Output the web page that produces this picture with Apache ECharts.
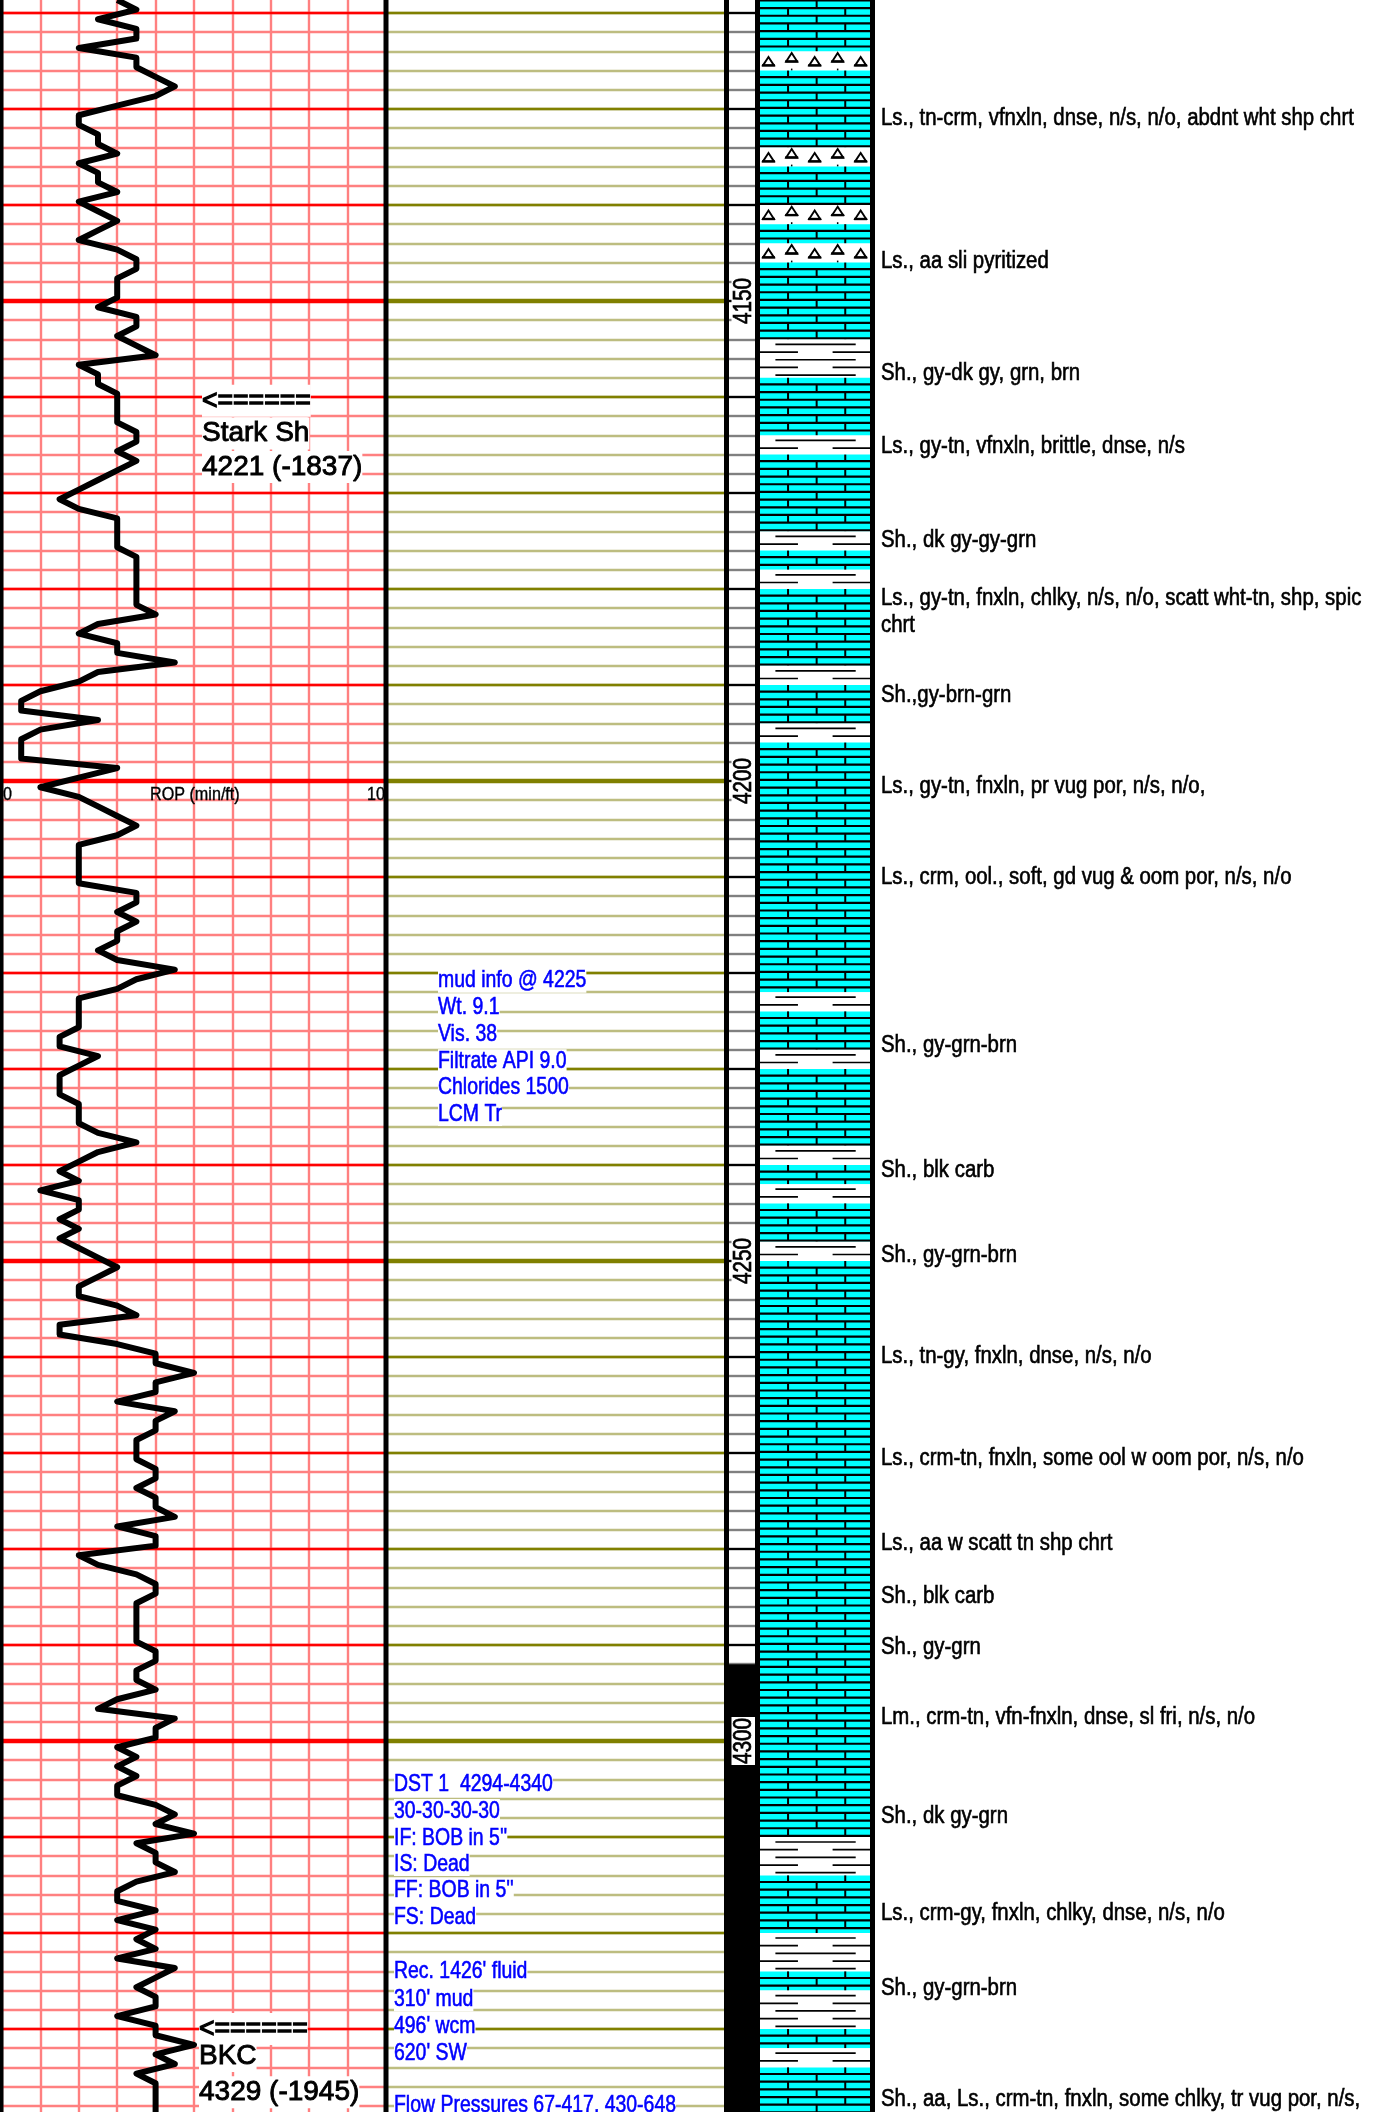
<!DOCTYPE html>
<html>
<head>
<meta charset="utf-8">
<title>ROP log</title>
<script src="https://cdn.jsdelivr.net/npm/echarts@6/dist/echarts.min.js"></script>
<style>
  html, body { margin: 0; padding: 0; background: #fff; }
  #chart { width: 1374px; height: 2112px; }
</style>
</head>
<body>
<div id="chart"></div>
<script>
// one value per foot, starting at ropTop
const ropTop = 4118.65;
const ropValues = [
  3,3.5,2.5,3.5,3.5,2,3.5,3.5,4,4.5,
  4,3,2,2,2.5,2.5,3,2,2.5,2.5,
  3,2,2.5,3,2.5,2,3,3.5,3.5,3,
  3,3,2.5,3.5,3.5,3,3.5,4,2,2.5,
  2.5,3,3,3,3,3.5,3.5,3,3.5,3,
  2.5,2,1.5,2,3,3,3,3,3.5,3.5,
  3.5,3.5,3.5,3.5,4,2.5,2,3,3,4.5,
  2.5,2,1,0.5,0.5,2.5,1,0.5,0.5,0.5,
  3,2,1,2,2.5,3,3.5,3,2,2,
  2,2,2,3.5,3.5,3,3.5,3,3,2.5,
  3,4.5,3.5,3,2,2,2,2,1.5,1.5,
  2.5,2,1.5,1.5,1.5,2,2,2,2.5,3.5,
  2.5,2,1.5,2,1,2,2,1.5,2,1.5,
  2,2.5,3,2.5,2,2,3,3.5,1.5,1.5,
  3,4,4,5,4,4,3,4.5,4,4,
  3.5,3.5,3.5,4,4,3.5,4,4,4.5,3,
  4,4,2,2.5,3.5,4,4,3.5,3.5,3.5,
  3.5,3.5,4,4,3.5,3.5,4,3,2.5,4.5,
  4,4,3,3.5,3,3.5,3,3,4,4.5,
  4,5,3.5,4,4,4.5,3.5,3,3,4,
  3,4,3.5,4,3,4.5,4,3.5,4,4,
  3,4,4,5,4,4.5,3.5,4,4,4,4
];

const depthMin = 4118;
const depthMax = 4340;
const tenFoot = [4120,4130,4140,4160,4170,4180,4190,4210,4220,4230,4240,4260,4270,4280,4290,4310,4320,4330];
const fiftyFoot = [4150,4200,4250,4300];
const depthLabels = ['4150','4200','4250','4300'];

// lithology column: top of each bed and what it is
const lithoTops = [4118,4124,4126,4134,4136,4140,4142,4144,4146,4154,4158,4164,4166,4174,4176,4178,4180,4188,4190,4194,4196,4222,4224,4228,4230,4238,4240,4242,4244,4248,4250,4310,4314,4320,4324,4326,4330,4332,4334];
const lithoTypes = ['ls','chert','ls','chert','ls','chert','ls','chert','ls','sh','ls','sh','ls','sh','ls','sh','ls','sh','ls','sh','ls','sh','ls','sh','ls','sh','ls','sh','ls','sh','ls','sh','ls','sh','ls','sh','ls','sh','ls'];

const descDepths = [4131,4145.9,4157.6,4165.2,4175,4181,4183.8,4191.1,4200.6,4210.1,4227.6,4240.6,4249.4,4260,4270.6,4279.4,4285,4290.3,4297.6,4307.9,4318,4325.8,4337.4];
const descTexts = [
  'Ls., tn-crm, vfnxln, dnse, n/s, n/o, abdnt wht shp chrt',
  'Ls., aa sli pyritized',
  'Sh., gy-dk gy, grn, brn',
  'Ls., gy-tn, vfnxln, brittle, dnse, n/s',
  'Sh., dk gy-gy-grn',
  'Ls., gy-tn, fnxln, chlky, n/s, n/o, scatt wht-tn, shp, spic',
  'chrt',
  'Sh.,gy-brn-grn',
  'Ls., gy-tn, fnxln, pr vug por, n/s, n/o,',
  'Ls., crm, ool., soft, gd vug & oom por, n/s, n/o',
  'Sh., gy-grn-brn',
  'Sh., blk carb',
  'Sh., gy-grn-brn',
  'Ls., tn-gy, fnxln, dnse, n/s, n/o',
  'Ls., crm-tn, fnxln, some ool w oom por, n/s, n/o',
  'Ls., aa w scatt tn shp chrt',
  'Sh., blk carb',
  'Sh., gy-grn',
  'Lm., crm-tn, vfn-fnxln, dnse, sl fri, n/s, n/o',
  'Sh., dk gy-grn',
  'Ls., crm-gy, fnxln, chlky, dnse, n/s, n/o',
  'Sh., gy-grn-brn',
  'Sh., aa, Ls., crm-tn, fnxln, some chlky, tr vug por, n/s,'
];

const mudDepths = [4220.8,4223.6,4226.4,4229.2,4231.9,4234.7];
const mudTexts = ['mud info @ 4225','Wt. 9.1','Vis. 38','Filtrate API 9.0','Chlorides 1500','LCM Tr'];
const dstDepths = [4304.5,4307.3,4310.1,4312.8,4315.6,4318.4,4324,4326.9,4329.7,4332.5,4338];
const dstTexts = ['DST 1  4294-4340','30-30-30-30',"IF: BOB in 5''",'IS: Dead',"FF: BOB in 5''",'FS: Dead',"Rec. 1426' fluid","310' mud","496' wcm","620' SW",'Flow Pressures 67-417, 430-648'];

const arrowDepths = [4160.4,4330];
const arrowTexts = ['<======','<======'];
const arrowX = [202,199];
const topDepths = [4163.8,4167.3,4332.8,4336.6];
const topTexts = ['Stark Sh','4221 (-1837)','BKC','4329 (-1945)'];
const topX = [202,202,199,199];

const scaleTexts = ['0','ROP (min/ft)','10'];
const scaleX = [3,150,367];

// pixels per foot comes from 2131.2px over depthMax - depthMin
const pageTop = -6.2;
const pageHeight = 2131.2;
const FONT = '"Liberation Sans", Arial, sans-serif';

const tracks = [
  { left: 2, width: 384 },    // ROP
  { left: 386, width: 338 },  // remarks
  { left: 729, width: 26 },   // depth
  { left: 760, width: 110 },  // lithology
  { left: 0, width: 1374 }    // whole page, x axis in pixels
];

const makeX = (i) => ({
  gridIndex: i,
  type: 'value',
  min: 0,
  max: i === 4 ? 1374 : 10,
  interval: i === 0 ? 1 : 10,
  axisLine: { show: false },
  axisTick: { show: false },
  axisLabel: { show: false },
  splitLine: { show: i === 0, lineStyle: { color: '#ff8080', width: 2.4 } }
});

const minorColor = ['#ff8080', '#bdbd80', '#808080'];
const makeY = (i) => ({
  gridIndex: i,
  type: 'value',
  inverse: true,
  min: depthMin,
  max: depthMax,
  interval: 2,
  axisLine: { show: false },
  axisTick: { show: false },
  axisLabel: { show: false },
  splitLine: { show: i < 3, lineStyle: { color: minorColor[i], width: 2.4 } }
});

// horizontal rule across one track at each depth
const rules = (track, depths, color, width) => ({
  type: 'custom',
  xAxisIndex: track,
  yAxisIndex: track,
  z: 2,
  silent: true,
  data: depths.map((d) => [d]),
  encode: { y: 0 },
  renderItem: (params, api) => {
    const y = api.coord([0, api.value(0)])[1];
    const cs = params.coordSys;
    return {
      type: 'line',
      shape: { x1: cs.x, y1: y, x2: cs.x + cs.width, y2: y },
      style: { stroke: color, lineWidth: width }
    };
  }
});

// text placed on the page grid: x in px, y by depth
const labels = (xs, depths, texts, opts) => ({
  type: 'custom',
  xAxisIndex: 4,
  yAxisIndex: 4,
  z: opts.z || 5,
  silent: true,
  data: depths.map((d, i) => [Array.isArray(xs) ? xs[i] : xs, d]),
  encode: { x: 0, y: 1 },
  renderItem: (params, api) => {
    const p = api.coord([api.value(0), api.value(1)]);
    const color = opts.color || '#000';
    return {
      type: 'text',
      x: p[0],
      y: p[1],
      scaleX: opts.scale || 1,
      rotation: opts.rotation || 0,
      style: {
        text: texts[params.dataIndex],
        fill: color,
        stroke: opts.heavy ? color : null,
        lineWidth: opts.heavy || 0,
        font: opts.font,
        textAlign: opts.align || 'left',
        textVerticalAlign: 'middle',
        backgroundColor: opts.bg,
        padding: opts.padding
      }
    };
  }
});

const edgeX = [1.5, 386, 726.5, 757.5, 872.5];
const edgeW = [4, 5, 5, 5, 5];

const edges = {
  type: 'custom',
  xAxisIndex: 4,
  yAxisIndex: 4,
  z: 6,
  silent: true,
  data: edgeX.map((x) => [x]),
  encode: { x: 0 },
  renderItem: (params, api) => {
    const x = api.coord([api.value(0), depthMin])[0];
    const y1 = api.coord([0, depthMin])[1];
    const y2 = api.coord([0, depthMax])[1];
    return {
      type: 'line',
      shape: { x1: x, y1: y1, x2: x, y2: y2 },
      style: { stroke: '#000', lineWidth: edgeW[params.dataIndex] }
    };
  }
};

// one bed of the lithology column
const ROW = 7.68;
const drawLime = (cs, y1, y2, out) => {
  out.push({ type: 'rect', shape: { x: cs.x, y: y1, width: cs.width, height: y2 - y1 }, style: { fill: '#00ffff' } });
  const line = (x1, a, x2, b, w) => out.push({ type: 'line', shape: { x1: x1, y1: a, x2: x2, y2: b }, style: { stroke: '#000', lineWidth: w || 2.2 } });
  let rowTop = y1;
  let rowBot = y1 + 6.6;
  let odd = true;
  while (rowTop < y2) {
    const b = Math.min(rowBot, y2);
    if (odd) {
      line(cs.x + cs.width * 0.255, rowTop, cs.x + cs.width * 0.255, b, 2);
      line(cs.x + cs.width * 0.775, rowTop, cs.x + cs.width * 0.775, b, 2);
    } else {
      line(cs.x + cs.width * 0.515, rowTop, cs.x + cs.width * 0.515, b, 2);
    }
    if (rowBot < y2) line(cs.x, rowBot, cs.x + cs.width, rowBot);
    rowTop = rowBot;
    rowBot += ROW;
    odd = !odd;
  }
};

const drawShale = (cs, y1, y2, out) => {
  out.push({ type: 'rect', shape: { x: cs.x, y: y1, width: cs.width, height: y2 - y1 }, style: { fill: '#fff' } });
  const line = (a, b, y) => out.push({ type: 'line', shape: { x1: cs.x + cs.width * a, y1: y, x2: cs.x + cs.width * b, y2: y }, style: { stroke: '#000', lineWidth: 1.7 } });
  let y = y1 + 5;
  let long = true;
  while (y < y2) {
    if (long) {
      line(0.14, 0.87, y);
    } else {
      line(0, 0.345, y);
      line(0.66, 1, y);
    }
    y += ROW;
    long = !long;
  }
};

const drawChert = (cs, y1, y2, out) => {
  out.push({ type: 'rect', shape: { x: cs.x, y: y1, width: cs.width, height: y2 - y1 }, style: { fill: '#fff' } });
  const cols = [0.077, 0.288, 0.497, 0.706, 0.915];
  cols.forEach((f, i) => {
    const x = cs.x + cs.width * f;
    const dy = i % 2 ? 1.7 : 5.6;
    const base = y1 + dy + 8.4;
    out.push({ type: 'polygon', shape: { points: [[x, y1 + dy], [x - 5.5, base], [x + 5.5, base]] }, style: { fill: '#fff', stroke: '#000', lineWidth: 1.9 } });
    out.push({ type: 'line', shape: { x1: x - 6.5, y1: base, x2: x + 6.5, y2: base }, style: { stroke: '#000', lineWidth: 2.4 } });
    if (i % 2) {
      out.push({ type: 'line', shape: { x1: x, y1: y2 - 2, x2: x, y2: y2 }, style: { stroke: '#000', lineWidth: 1.5 } });
    }
  });
};

const litho = {
  type: 'custom',
  xAxisIndex: 3,
  yAxisIndex: 3,
  z: 2,
  silent: true,
  data: lithoTops.map((t, i) => [t, i + 1 < lithoTops.length ? lithoTops[i + 1] : depthMax]),
  encode: { y: [0, 1] },
  renderItem: (params, api) => {
    const cs = params.coordSys;
    const y1 = api.coord([0, api.value(0)])[1];
    const y2 = api.coord([0, api.value(1)])[1];
    const children = [];
    const kind = lithoTypes[params.dataIndex];
    if (kind === 'ls') drawLime(cs, y1, y2, children);
    if (kind === 'sh') drawShale(cs, y1, y2, children);
    if (kind === 'chert') drawChert(cs, y1, y2, children);
    return { type: 'group', children: children };
  }
};

// drilled-stem test bar down the depth column
const dstBar = {
  type: 'custom',
  xAxisIndex: 2,
  yAxisIndex: 2,
  z: 3,
  silent: true,
  data: [[4292, depthMax]],
  encode: { y: [0, 1] },
  renderItem: (params, api) => {
    const cs = params.coordSys;
    const y1 = api.coord([0, api.value(0)])[1];
    const y2 = api.coord([0, api.value(1)])[1];
    return { type: 'rect', shape: { x: cs.x, y: y1, width: cs.width, height: y2 - y1 }, style: { fill: '#000' } };
  }
};

const option = {
  animation: false,
  // outerBoundsMode none, otherwise v6 squeezes the overflowing grid back into the canvas
  grid: tracks.map((t) => ({ left: t.left, width: t.width, top: pageTop, height: pageHeight, show: false, outerBoundsMode: 'none' })),
  xAxis: tracks.map((t, i) => makeX(i)),
  yAxis: tracks.map((t, i) => makeY(i)),
  series: [
    rules(0, tenFoot, '#ff0000', 2.4),
    rules(0, fiftyFoot, '#ff0000', 4.4),
    rules(1, tenFoot, '#808000', 2.4),
    rules(1, fiftyFoot, '#808000', 4.4),
    rules(2, tenFoot.concat(fiftyFoot), '#000', 2.2),
    litho,
    dstBar,
    {
      type: 'line',
      xAxisIndex: 0,
      yAxisIndex: 0,
      z: 3,
      silent: true,
      showSymbol: false,
      data: ropValues.map((v, i) => [v, ropTop + i]),
      lineStyle: { color: '#000', width: 6, join: 'round' }
    },
    labels(scaleX, [4201.4, 4201.4, 4201.4], scaleTexts, { font: '19px ' + FONT, scale: 0.85, heavy: 0.4 }),
    labels(arrowX, arrowDepths, arrowTexts, { font: '28px ' + FONT, scale: 0.95, bg: '#fff', padding: [2, 0, 2, 0], heavy: 1.3 }),
    labels(topX, topDepths, topTexts, { font: '28px ' + FONT, bg: '#fff', padding: [2, 0, 2, 0], heavy: 0.9 }),
    labels(438, mudDepths, mudTexts, { font: '24px ' + FONT, color: '#0000ff', bg: '#fff', scale: 0.81, heavy: 0.6 }),
    labels(394, dstDepths, dstTexts, { font: '24px ' + FONT, color: '#0000ff', bg: '#fff', scale: 0.81, heavy: 0.6 }),
    labels(881, descDepths, descTexts, { font: '23px ' + FONT, scale: 0.887, z: 4, heavy: 0.6 }),
    labels(744, fiftyFoot, depthLabels, { font: '25px ' + FONT, scale: 0.83, rotation: Math.PI / 2, align: 'center', bg: '#fff', padding: [0, 1, 0, 1], heavy: 0.7 }),
    edges
  ]
};

const myChart = echarts.init(document.getElementById('chart'), null, { renderer: 'canvas' });
myChart.setOption(option);
</script>
</body>
</html>
